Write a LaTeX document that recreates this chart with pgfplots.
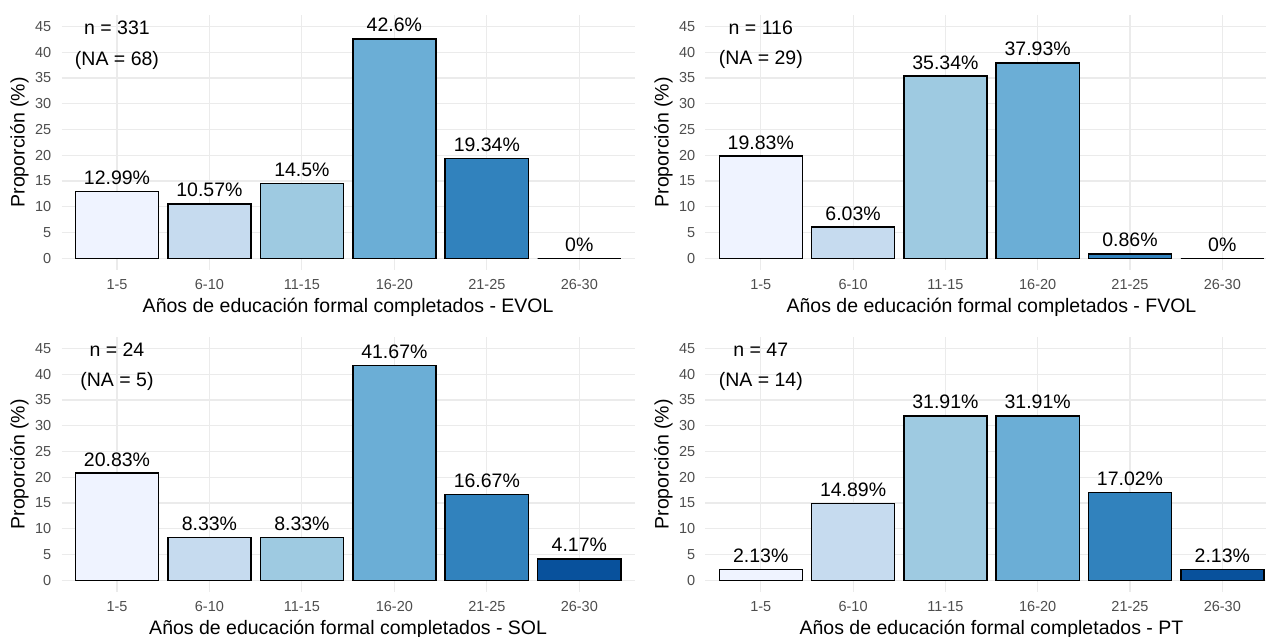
\documentclass[border=0pt]{standalone}
\usepackage{fontspec}
\setmainfont{Liberation Sans}
\usepackage{pgfplots}
\pgfplotsset{compat=1.18}
\definecolor{c1}{HTML}{EFF3FF}
\definecolor{c2}{HTML}{C6DBEF}
\definecolor{c3}{HTML}{9ECAE1}
\definecolor{c4}{HTML}{6BAED6}
\definecolor{c5}{HTML}{3182BD}
\definecolor{c6}{HTML}{08519C}
\definecolor{gridc}{HTML}{EBEBEB}
\definecolor{tickc}{HTML}{4D4D4D}
\newcommand{\onebar}[3]{\addplot[fill=#1] coordinates {(#2,#3) [#3\%]};}
\pgfplotsset{panel/.style={
  scale only axis, height=255pt,
  xmin=0.4, ymin=-2.25, ymax=47.25,
  ybar, bar width=0.9, bar shift=0pt,
  xtick={1,...,6}, xticklabels={1-5,6-10,11-15,16-20,21-25,26-30},
  ytick={0,5,...,45},
  axis line style={draw=none},
  major tick length=0pt,
  grid=major, major grid style={draw=gridc, line width=1.1pt},
  /pgf/number format/assume math mode=true,
  tick label style={font=\fontsize{14.5}{17}\selectfont, text=tickc, inner sep=0pt},
  yticklabel style={anchor=east, xshift=-10pt},
  xticklabel style={anchor=base, yshift=-19.4pt},
  ylabel={Proporción (\%)},
  every axis y label/.style={at={(axis description cs:0,0.5)}, xshift=-42pt, rotate=90, anchor=center, font=\fontsize{19.5}{23}\selectfont},
  clip=false,
  nodes near coords, point meta=explicit symbolic,
  every node near coord/.append style={font=\fontsize{19.5}{23}\selectfont, anchor=base, inner sep=0pt, yshift=7pt, text=black},
  every axis plot/.append style={draw=black, line width=1.5pt},
}}
\begin{document}
\begin{tikzpicture}
\path[use as bounding box] (0,0) rectangle (1267pt,637pt);
% EVOL
\begin{axis}[panel, width=573.3pt, xmax=6.6, at={(61.5pt,367.1pt)}, anchor=south west,
  xlabel={Años de educación formal completados - EVOL},
  every axis x label/.style={at={(axis description cs:0.5,0)}, anchor=base, yshift=-42.8pt, font=\fontsize{19.5}{23}\selectfont}]
\onebar{c1}{1}{12.99}
\onebar{c2}{2}{10.57}
\onebar{c3}{3}{14.5}
\onebar{c4}{4}{42.6}
\onebar{c5}{5}{19.34}
\onebar{c6}{6}{0}
\node[anchor=base, font=\fontsize{19.5}{23}\selectfont] at (axis cs:1,43.4) {n = 331};
\node[anchor=base, font=\fontsize{19.5}{23}\selectfont] at (axis cs:1,37.4) {(NA = 68)};
\end{axis}
% FVOL
\begin{axis}[panel, width=560.3pt, xmax=6.47, at={(705.4pt,367.1pt)}, anchor=south west,
  xlabel={Años de educación formal completados - FVOL},
  every axis x label/.style={at={(axis description cs:0.5106,0)}, anchor=base, yshift=-42.8pt, font=\fontsize{19.5}{23}\selectfont}]
\onebar{c1}{1}{19.83}
\onebar{c2}{2}{6.03}
\onebar{c3}{3}{35.34}
\onebar{c4}{4}{37.93}
\onebar{c5}{5}{0.86}
\onebar{c6}{6}{0}
\node[anchor=base, font=\fontsize{19.5}{23}\selectfont] at (axis cs:1,43.5) {n = 116};
\node[anchor=base, font=\fontsize{19.5}{23}\selectfont] at (axis cs:1,37.6) {(NA = 29)};
\end{axis}
% SOL
\begin{axis}[panel, width=573.3pt, xmax=6.6, at={(61.5pt,45.1pt)}, anchor=south west,
  xlabel={Años de educación formal completados - SOL},
  every axis x label/.style={at={(axis description cs:0.5,0)}, anchor=base, yshift=-42.8pt, font=\fontsize{19.5}{23}\selectfont}]
\onebar{c1}{1}{20.83}
\onebar{c2}{2}{8.33}
\onebar{c3}{3}{8.33}
\onebar{c4}{4}{41.67}
\onebar{c5}{5}{16.67}
\onebar{c6}{6}{4.17}
\node[anchor=base, font=\fontsize{19.5}{23}\selectfont] at (axis cs:1,43.5) {n = 24};
\node[anchor=base, font=\fontsize{19.5}{23}\selectfont] at (axis cs:1,37.6) {(NA = 5)};
\end{axis}
% PT
\begin{axis}[panel, width=560.3pt, xmax=6.47, at={(705.4pt,45.1pt)}, anchor=south west,
  xlabel={Años de educación formal completados - PT},
  every axis x label/.style={at={(axis description cs:0.5106,0)}, anchor=base, yshift=-42.8pt, font=\fontsize{19.5}{23}\selectfont}]
\onebar{c1}{1}{2.13}
\onebar{c2}{2}{14.89}
\onebar{c3}{3}{31.91}
\onebar{c4}{4}{31.91}
\onebar{c5}{5}{17.02}
\onebar{c6}{6}{2.13}
\node[anchor=base, font=\fontsize{19.5}{23}\selectfont] at (axis cs:1,43.5) {n = 47};
\node[anchor=base, font=\fontsize{19.5}{23}\selectfont] at (axis cs:1,37.6) {(NA = 14)};
\end{axis}
\end{tikzpicture}
\end{document}
